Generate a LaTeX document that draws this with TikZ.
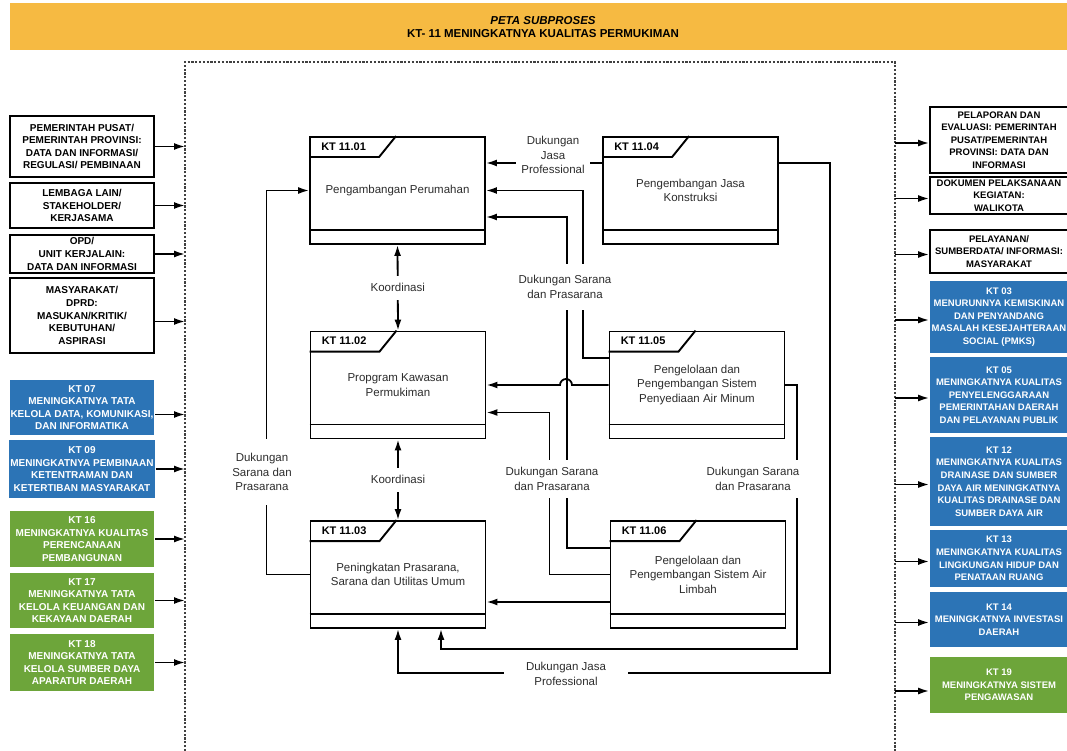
\documentclass[tikz,border=0pt]{standalone}
\usepackage{fontspec}
\setmainfont{Liberation Sans}
\usetikzlibrary{arrows.meta}
\definecolor{ktorange}{RGB}{246,186,66}
\definecolor{ktblue}{RGB}{44,116,182}
\definecolor{ktgreen}{RGB}{109,165,58}
\definecolor{lblgray}{RGB}{45,45,45}
\newcommand\procfont{\fontsize{11.5}{14.5}\selectfont}
\newcommand\extfont{\fontsize{10}{12.6}\selectfont\bfseries}
\newcommand\outfont{\fontsize{9.5}{12.6}\selectfont\bfseries}
\begin{document}
\begin{tikzpicture}[x=1pt,y=-1pt,
    arr/.style={line width=1.8pt,-{Latex[length=11pt,width=7pt]}},
    arrtwo/.style={line width=1.8pt,{Latex[length=11pt,width=7pt]}-{Latex[length=11pt,width=7pt]}},
    proc/.style={draw,line width=1.9pt,fill=white,minimum width=175pt,minimum height=107pt,align=center,font=\procfont,text=lblgray,inner sep=0pt},
    extbox/.style={draw,line width=1.7pt,fill=white,minimum width=144pt,align=center,font=\extfont,inner sep=1pt},
    bluebox/.style={extbox,draw=none,fill=ktblue,text=white},
    greenbox/.style={extbox,draw=none,fill=ktgreen,text=white},
    outbox/.style={minimum width=138pt,font=\outfont},
    lbl/.style={fill=white,align=center,font=\procfont,text=lblgray,inner xsep=5pt,inner ysep=8pt}]
    \useasboundingbox (0,0) rectangle (1067,751);
    \clip (0,0) rectangle (1067,751);
    % title bar
    \fill[ktorange] (10,3) rectangle (1067,50);
    \node[font=\fontsize{11.5}{13.5}\selectfont\bfseries,align=center] (title) at (543,27) {\textit{PETA SUBPROSES}\\KT- 11 MENINGKATNYA KUALITAS PERMUKIMAN};
    % frame
    \draw[line width=2pt,dash pattern=on 2.2pt off 1.6pt,darkgray] (185,751) -- (185,62) -- (895,62) -- (895,751);
    \coordinate (fl) at (185,0);
    \coordinate (fr) at (895,0);
    % inputs
    \node[extbox,minimum height=61pt] (b1) at (82,146.5) {PEMERINTAH PUSAT/\\PEMERINTAH PROVINSI:\\DATA DAN INFORMASI/\\REGULASI/ PEMBINAAN};
    \node[extbox,minimum height=45pt] (b2) at (82,205.5) {LEMBAGA LAIN/\\STAKEHOLDER/\\KERJASAMA};
    \node[extbox,minimum height=38pt] (b3) at (82,254) {OPD/\\UNIT KERJALAIN:\\DATA DAN INFORMASI};
    \node[extbox,minimum height=75pt] (b4) at (82,315.5) {MASYARAKAT/\\DPRD:\\MASUKAN/KRITIK/\\KEBUTUHAN/\\ASPIRASI};
    \node[bluebox,minimum height=55pt] (b5) at (82,407.5) {KT 07\\MENINGKATNYA TATA\\KELOLA DATA, KOMUNIKASI,\\DAN INFORMATIKA};
    \node[bluebox,minimum height=58pt] (b6) at (82,469) {KT 09\\MENINGKATNYA PEMBINAAN\\KETENTRAMAN DAN\\KETERTIBAN MASYARAKAT};
    \node[greenbox,minimum height=56pt] (b7) at (82,539) {KT 16\\MENINGKATNYA KUALITAS\\PERENCANAAN\\PEMBANGUNAN};
    \node[greenbox,minimum height=55pt] (b8) at (82,600.5) {KT 17\\MENINGKATNYA TATA\\KELOLA KEUANGAN DAN\\KEKAYAAN DAERAH};
    \node[greenbox,minimum height=57pt] (b9) at (82,662.5) {KT 18\\MENINGKATNYA TATA\\KELOLA SUMBER DAYA\\APARATUR DAERAH};
    \foreach \b in {b1,b2,b3,b6,b7,b8,b9}
      \draw[arr] (\b.east) -- (\b.east -| fl);
    \draw[arr] ([yshift=-6]b4.east) -- ([yshift=-6]b4.east -| fl);
    \draw[arr] ([yshift=-7]b5.east) -- ([yshift=-7]b5.east -| fl);
    % outputs
    \node[extbox,outbox,minimum height=66pt] (r1) at (999,140) {PELAPORAN DAN\\EVALUASI: PEMERINTAH\\PUSAT/PEMERINTAH\\PROVINSI: DATA DAN\\INFORMASI};
    \node[extbox,outbox,minimum height=37pt] (r2) at (999,195.5) {DOKUMEN PELAKSANAAN\\KEGIATAN:\\WALIKOTA};
    \node[extbox,outbox,minimum height=43pt] (r3) at (999,251.5) {PELAYANAN/\\SUMBERDATA/ INFORMASI:\\MASYARAKAT};
    \node[bluebox,outbox,minimum height=72pt] (r4) at (999,317) {KT 03\\MENURUNNYA KEMISKINAN\\DAN PENYANDANG\\MASALAH KESEJAHTERAAN\\SOCIAL (PMKS)};
    \node[bluebox,outbox,minimum height=76pt] (r5) at (999,395) {KT 05\\MENINGKATNYA KUALITAS\\PENYELENGGARAAN\\PEMERINTAHAN DAERAH\\DAN PELAYANAN PUBLIK};
    \node[bluebox,outbox,minimum height=89pt] (r6) at (999,481.5) {KT 12\\MENINGKATNYA KUALITAS\\DRAINASE DAN SUMBER\\DAYA AIR MENINGKATNYA\\KUALITAS DRAINASE DAN\\SUMBER DAYA AIR};
    \node[bluebox,outbox,minimum height=57pt] (r7) at (999,558.5) {KT 13\\MENINGKATNYA KUALITAS\\LINGKUNGAN HIDUP DAN\\PENATAAN RUANG};
    \node[bluebox,outbox,minimum height=55pt] (r8) at (999,619.5) {KT 14\\MENINGKATNYA INVESTASI\\DAERAH};
    \node[greenbox,outbox,minimum height=56pt] (r9) at (999,685) {KT 19\\MENINGKATNYA SISTEM\\PENGAWASAN};
    \foreach \r in {r1,r2,r3,r4,r5,r6,r7,r8}
      \draw[arr] ([yshift=-3]\r.west -| fr) -- ([yshift=-3]\r.west);
    \draw[arr] ([yshift=-6]r9.west -| fr) -- ([yshift=-6]r9.west);
    % subprocesses
    \node[proc] (p1) at (397.5,190.5) {Pengambangan Perumahan};
    \node[proc] (p2) at (398,385) {Propgram Kawasan\\Permukiman};
    \node[proc] (p3) at (398,574.5) {Peningkatan Prasarana,\\Sarana dan Utilitas Umum};
    \node[proc] (p4) at (690.5,190.5) {Pengembangan Jasa\\Konstruksi};
    \node[proc] (p5) at (697,385) {Pengelolaan dan\\Pengembangan Sistem\\Penyediaan Air Minum};
    \node[proc] (p6) at (698,574.5) {Pengelolaan dan\\Pengembangan Sistem Air\\Limbah};
    \foreach \p/\t in {p1/KT 11.01,p2/KT 11.02,p3/KT 11.03,p4/KT 11.04,p5/KT 11.05,p6/KT 11.06} {
      \draw[line width=1.9pt] ([yshift=-21]\p.north west) -- ([xshift=70,yshift=-21]\p.north west) -- ([xshift=87]\p.north west);
      \draw[line width=1.9pt] ([yshift=15]\p.south west) -- ([yshift=15]\p.south east);
      \node[anchor=west,font=\fontsize{11}{12}\selectfont\bfseries,inner sep=0pt] at ([xshift=12,yshift=-10.5]\p.north west) {\t};
    }
    % connectors
    \draw[arrtwo] (p1.south) -- node[lbl] (k1) {Koordinasi} (p2.north);
    \draw[arrtwo] (p2.south) -- node[lbl] (k2) {Koordinasi} (p3.north);
    \draw[arr] ([yshift=27.5]p4.west) -- ([yshift=27.5]p1.east);
    \draw[arr] ([yshift=27]p5.west) -| ([xshift=97]p1.east) -- (p1.east);
    \draw[arr] ([yshift=26.5]p6.west) -| ([xshift=81,yshift=-26.5]p1.east) -- ([yshift=-26.5]p1.east);
    \draw[arr] (p5.west) -- (572,385) arc[start angle=0,end angle=180,radius=6pt] -- (p2.east);
    \draw[arr] (p6.west) -| ([xshift=63,yshift=-27.5]p2.east) -- ([yshift=-27.5]p2.east);
    \draw[arr] ([yshift=-27.5]p6.west) -- ([yshift=-27.5]p3.east);
    \draw[arr] (p3.west) -- ++(-43,0) |- (p1.west);
    \draw[arr] ([yshift=27.5]p4.east) -| (830,673) -| (p3.south);
    \draw[arr] (p5.east) -| (797,649) -| ([xshift=43]p3.south);
    % labels
    \node[lbl,inner ysep=2pt] (l1) at (553,155) {Dukungan\\Jasa\\Professional};
    \node[lbl,inner ysep=12pt] (l2) at (565,287) {Dukungan Sarana\\dan Prasarana};
    \node[lbl] (l3) at (552,479) {Dukungan Sarana\\dan Prasarana};
    \node[lbl,inner ysep=14pt] (l4) at (262,472) {Dukungan\\Sarana dan\\Prasarana};
    \node[lbl] (l5) at (753,479) {Dukungan Sarana\\dan Prasarana};
    \node[lbl,inner xsep=22pt,inner ysep=3pt] (l6) at (566,674) {Dukungan Jasa\\Professional};
\end{tikzpicture}
\end{document}
